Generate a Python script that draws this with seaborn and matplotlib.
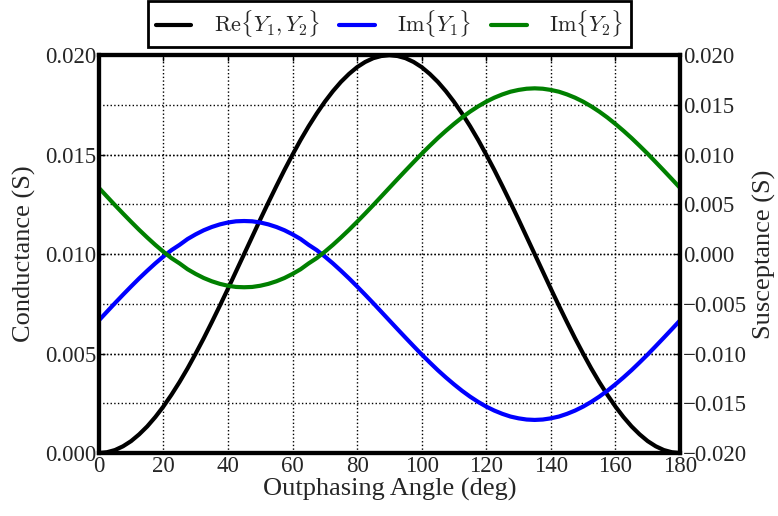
import numpy as np
import pandas as pd
import seaborn as sns
import matplotlib
matplotlib.use("Agg")
import matplotlib.pyplot as plt

# Outphasing angle samples (deg)
angle = [0, 2.5, 5, 7.5, 10, 12.5, 15, 17.5, 20, 22.5, 25, 27.5, 30, 32.5, 35, 37.5, 40, 42.5,
         45, 47.5, 50, 52.5, 55, 57.5, 60, 62.5, 65, 67.5, 70, 72.5, 75, 77.5, 80, 82.5, 85, 87.5,
         90, 92.5, 95, 97.5, 100, 102.5, 105, 107.5, 110, 112.5, 115, 117.5, 120, 122.5, 125, 127.5,
         130, 132.5, 135, 137.5, 140, 142.5, 145, 147.5, 150, 152.5, 155, 157.5, 160, 162.5, 165,
         167.5, 170, 172.5, 175, 177.5, 180]

# Conductance Re{Y1,Y2} (S)
re_y = [0.0, 0.00004, 0.00015, 0.00034, 0.00060, 0.00094, 0.00134, 0.00181, 0.00234, 0.00293,
        0.00357, 0.00426, 0.00500, 0.00577, 0.00658, 0.00741, 0.00826, 0.00913, 0.01000, 0.01087,
        0.01174, 0.01259, 0.01342, 0.01423, 0.01500, 0.01574, 0.01643, 0.01707, 0.01766, 0.01819,
        0.01866, 0.01906, 0.01940, 0.01966, 0.01985, 0.01996, 0.02000,
        0.01996, 0.01985, 0.01966, 0.01940, 0.01906, 0.01866, 0.01819, 0.01766, 0.01707, 0.01643,
        0.01574, 0.01500, 0.01423, 0.01342, 0.01259, 0.01174, 0.01087, 0.01000, 0.00913, 0.00826,
        0.00741, 0.00658, 0.00577, 0.00500, 0.00426, 0.00357, 0.00293, 0.00234, 0.00181, 0.00134,
        0.00094, 0.00060, 0.00034, 0.00015, 0.00004, 0.0]

# Susceptance Im{Y1} (S)
im_y1 = [-0.00667, -0.00580, -0.00493, -0.00408, -0.00325, -0.00244, -0.00167, -0.00093, -0.00024,
         0.00040, 0.00093, 0.00152, 0.00199, 0.00240, 0.00273, 0.00299, 0.00318, 0.00330, 0.00333,
         0.00330, 0.00318, 0.00299, 0.00273, 0.00240, 0.00199, 0.00152, 0.00093, 0.00040, -0.00024,
         -0.00093, -0.00167, -0.00244, -0.00325, -0.00408, -0.00493, -0.00580, -0.00667,
         -0.00754, -0.00840, -0.00925, -0.01009, -0.01089, -0.01167, -0.01240, -0.01309, -0.01374,
         -0.01433, -0.01486, -0.01533, -0.01573, -0.01606, -0.01633, -0.01651, -0.01663, -0.01667,
         -0.01663, -0.01651, -0.01633, -0.01606, -0.01573, -0.01533, -0.01486, -0.01433, -0.01374,
         -0.01309, -0.01240, -0.01167, -0.01089, -0.01009, -0.00925, -0.00840, -0.00754, -0.00667]

# Susceptance Im{Y2} (S)
im_y2 = [0.00667, 0.00580, 0.00493, 0.00408, 0.00325, 0.00244, 0.00167, 0.00093, 0.00024,
         -0.00040, -0.00093, -0.00152, -0.00199, -0.00240, -0.00273, -0.00299, -0.00318, -0.00330,
         -0.00333, -0.00330, -0.00318, -0.00299, -0.00273, -0.00240, -0.00199, -0.00152, -0.00093,
         -0.00040, 0.00024, 0.00093, 0.00167, 0.00244, 0.00325, 0.00408, 0.00493, 0.00580, 0.00667,
         0.00754, 0.00840, 0.00925, 0.01009, 0.01089, 0.01167, 0.01240, 0.01309, 0.01374,
         0.01433, 0.01486, 0.01533, 0.01573, 0.01606, 0.01633, 0.01651, 0.01663, 0.01667,
         0.01663, 0.01651, 0.01633, 0.01606, 0.01573, 0.01533, 0.01486, 0.01433, 0.01374,
         0.01309, 0.01240, 0.01167, 0.01089, 0.01009, 0.00925, 0.00840, 0.00754, 0.00667]

x_ticks = [0, 20, 40, 60, 80, 100, 120, 140, 160, 180]
g_ticks = [0.000, 0.005, 0.010, 0.015, 0.020]
b_ticks = [-0.020, -0.015, -0.010, -0.005, 0.000, 0.005, 0.010, 0.015, 0.020]

sns.set_style("white")
plt.rcParams.update({
    "font.family": ["Liberation Serif", "DejaVu Serif"],
    "mathtext.fontset": "cm",
    "xtick.direction": "in",
    "ytick.direction": "in",
    "axes.linewidth": 3,
})

df = pd.DataFrame({"angle": angle, "re": re_y, "im1": im_y1, "im2": im_y2})

fig = plt.figure(figsize=(7.78, 5.16), dpi=100)
ax = fig.add_axes([0.127, 0.122, 0.747, 0.771])
ax2 = ax.twinx()

sns.lineplot(data=df, x="angle", y="re", ax=ax, color="black", lw=3,
             label=r"$\mathrm{Re}\{Y_1,Y_2\}$", legend=False)
sns.lineplot(data=df, x="angle", y="im1", ax=ax2, color="blue", lw=3,
             label=r"$\mathrm{Im}\{Y_1\}$", legend=False)
sns.lineplot(data=df, x="angle", y="im2", ax=ax2, color="green", lw=3,
             label=r"$\mathrm{Im}\{Y_2\}$", legend=False)

ax.set_xlim(0, 180)
ax.set_ylim(0, 0.02)
ax2.set_ylim(-0.02, 0.02)
ax.set_xticks(x_ticks)
ax.set_yticks(g_ticks)
ax2.set_yticks(b_ticks)
ax.set_yticklabels([f"{v:.3f}" for v in g_ticks])
ax2.set_yticklabels([f"{v:.3f}".replace("-", "\u2212") for v in b_ticks])

for a in (ax, ax2):
    a.tick_params(axis="both", labelsize=16.5, width=1, length=4, direction="in",
                  top=True, color="black", pad=2)
    for s in a.spines.values():
        s.set_linewidth(3)
        s.set_color("black")

ax.grid(True, color="black", linestyle=":", linewidth=1)
ax2.grid(True, axis="y", color="black", linestyle=":", linewidth=1)

ax.set_xlabel("Outphasing Angle (deg)", fontsize=19, labelpad=1)
ax.set_ylabel("Conductance (S)", fontsize=19, labelpad=6)
ax2.set_ylabel("Susceptance (S)", fontsize=19, labelpad=4)

h1, l1 = ax.get_legend_handles_labels()
h2, l2 = ax2.get_legend_handles_labels()
leg = ax.legend(h1 + h2, l1 + l2, loc="lower center", bbox_to_anchor=(0.5, 1.02),
                ncol=3, fontsize=16, frameon=True, fancybox=False, framealpha=1,
                borderaxespad=0, handlelength=1.6, columnspacing=0.9, borderpad=0.35,
                handletextpad=1.0)
leg.get_frame().set_edgecolor("black")
leg.get_frame().set_linewidth(2)

fig.savefig("out.png", dpi=100)
